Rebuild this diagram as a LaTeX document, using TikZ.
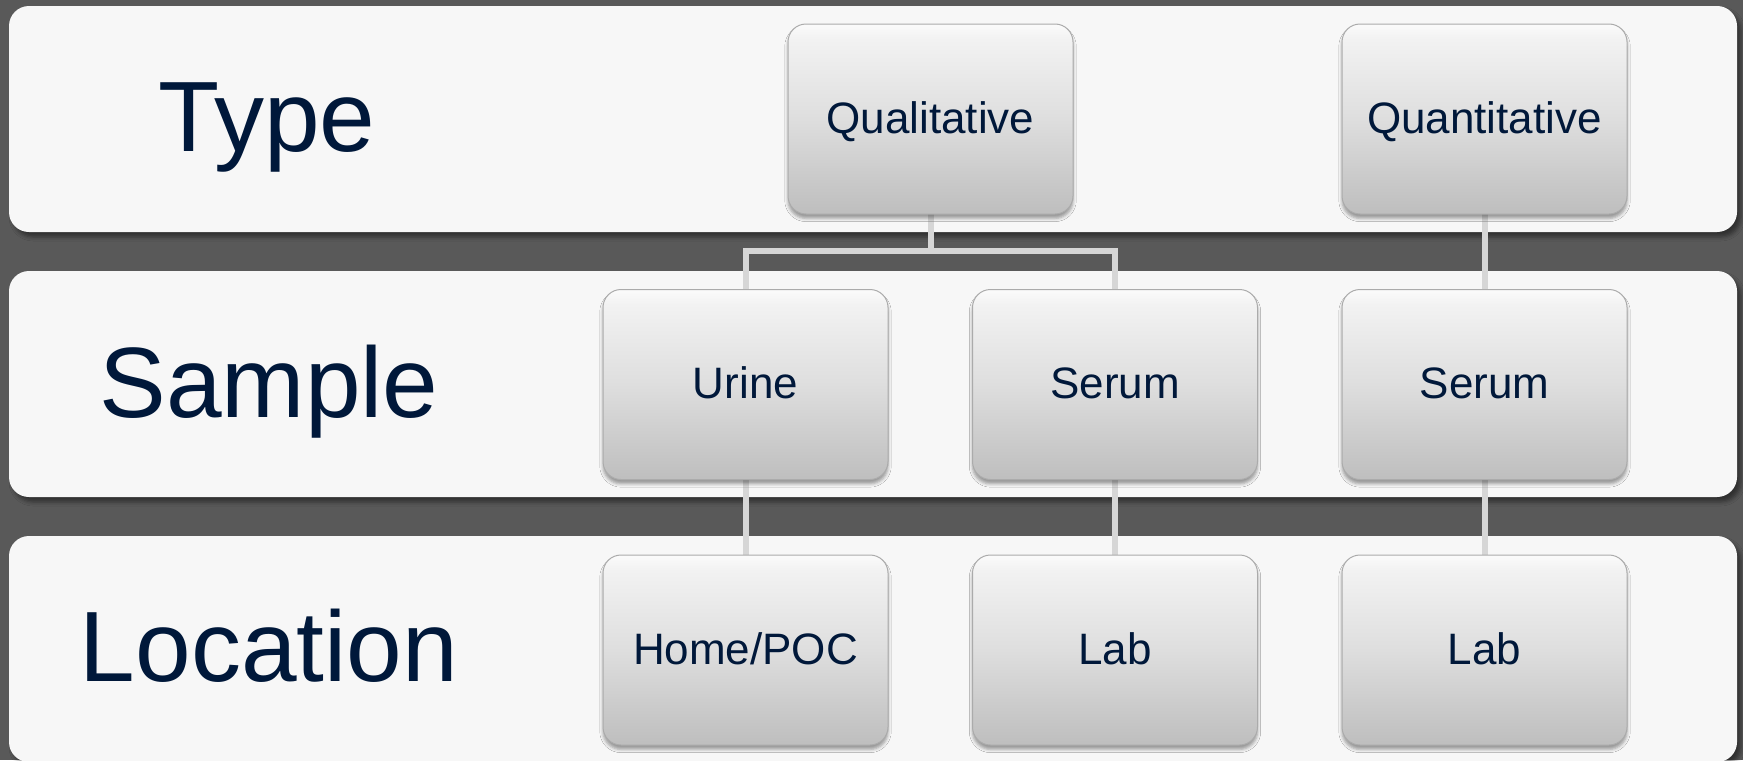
\documentclass[tikz,border=0pt]{standalone}
\usepackage{fontspec}
\setmainfont{Liberation Sans}
\usetikzlibrary{shadows.blur}
\definecolor{bgdark}{HTML}{595959}
\definecolor{bandfill}{HTML}{F7F7F7}
\definecolor{navy}{HTML}{00183A}
\definecolor{connc}{HTML}{D6D6D6}
\definecolor{bshB}{HTML}{BEBEBE}
\definecolor{bshM}{HTML}{DEDEDE}
\definecolor{bshT}{HTML}{F2F2F2}
\definecolor{bshH}{HTML}{FBFBFB}
\definecolor{boxedge}{HTML}{ABABAB}
\pgfdeclareverticalshading{boxshade}{100bp}{color(0bp)=(bshB); color(25bp)=(bshB); color(50bp)=(bshM); color(71bp)=(bshT); color(75bp)=(bshH); color(100bp)=(bshH)}
\tikzset{
  band/.style={fill=bandfill, rounded corners=10pt,
    blur shadow={shadow xshift=2pt, shadow yshift=-2.5pt, shadow blur radius=2pt, shadow opacity=45}},
  bandlabel/.style={text=navy, font=\fontsize{50}{60}\selectfont, anchor=base, inner sep=0pt},
  boxframe/.style={rectangle, minimum width=142.5pt, minimum height=95pt, inner sep=0pt},
  itembox/.style={boxframe, rounded corners=9pt,
    shading=boxshade, draw=boxedge, line width=0.5pt,
    blur shadow={shadow xshift=0pt, shadow yshift=-2.2pt, shadow blur radius=1.6pt, shadow opacity=38}},
  itemtext/.style={text=navy, font=\fontsize{22}{26}\selectfont, anchor=base, inner sep=0pt},
  conn/.style={draw=connc, line width=3pt}
}
\begin{document}
\begin{tikzpicture}[x=0.5pt, y=-0.5pt]
\useasboundingbox (0,0) rectangle (1743,760);
\fill[bgdark] (0,0) rectangle (1743,760);
% bands
\path[band] (9,6) rectangle (1737,232);
\path[band] (9,271) rectangle (1737,497);
\path[band] (9,536) rectangle (1737,762);
% band labels
\node[bandlabel] (ltype) at (267,151) {Type};
\node[bandlabel] (lsample) at (269,417) {Sample};
\node[bandlabel] (lloc) at (269,681) {Location};
% box frames (named, invisible) for connectors
\node[boxframe] (qual) at (930.5,119) {};
\node[boxframe] (quant) at (1484.5,119) {};
\node[boxframe] (urine) at (745.5,384.5) {};
\node[boxframe] (serumA) at (1115,384.5) {};
\node[boxframe] (serumB) at (1484.5,384.5) {};
\node[boxframe] (home) at (745.5,650) {};
\node[boxframe] (labA) at (1115,650) {};
\node[boxframe] (labB) at (1484.5,650) {};
\coordinate (jq) at (930.5,251);
% connectors
\draw[conn] (qual.south) -- (jq);
\draw[conn] (urine.north) -- (urine.north |- jq) -- (serumA.north |- jq) -- (serumA.north);
\draw[conn] (quant.south) -- (serumB.north);
\draw[conn] (urine.south) -- (home.north);
\draw[conn] (serumA.south) -- (labA.north);
\draw[conn] (serumB.south) -- (labB.north);
% visible boxes with texts
\node[itembox] (bqual) at (qual) {};
\node[itembox] (bquant) at (quant) {};
\node[itembox] (burine) at (urine) {};
\node[itembox] (bserumA) at (serumA) {};
\node[itembox] (bserumB) at (serumB) {};
\node[itembox] (bhome) at (home) {};
\node[itembox] (blabA) at (labA) {};
\node[itembox] (blabB) at (labB) {};
\node[itemtext] (tqual) at (930.5,133) {Qualitative};
\node[itemtext] (tquant) at (1484.5,133) {Quantitative};
\node[itemtext] (turine) at (745.5,398.5) {Urine};
\node[itemtext] (tserumA) at (1115,398.5) {Serum};
\node[itemtext] (tserumB) at (1484.5,398.5) {Serum};
\node[itemtext] (thome) at (745.5,664) {Home/POC};
\node[itemtext] (tlabA) at (1115,664) {Lab};
\node[itemtext] (tlabB) at (1484.5,664) {Lab};
\end{tikzpicture}
\end{document}
